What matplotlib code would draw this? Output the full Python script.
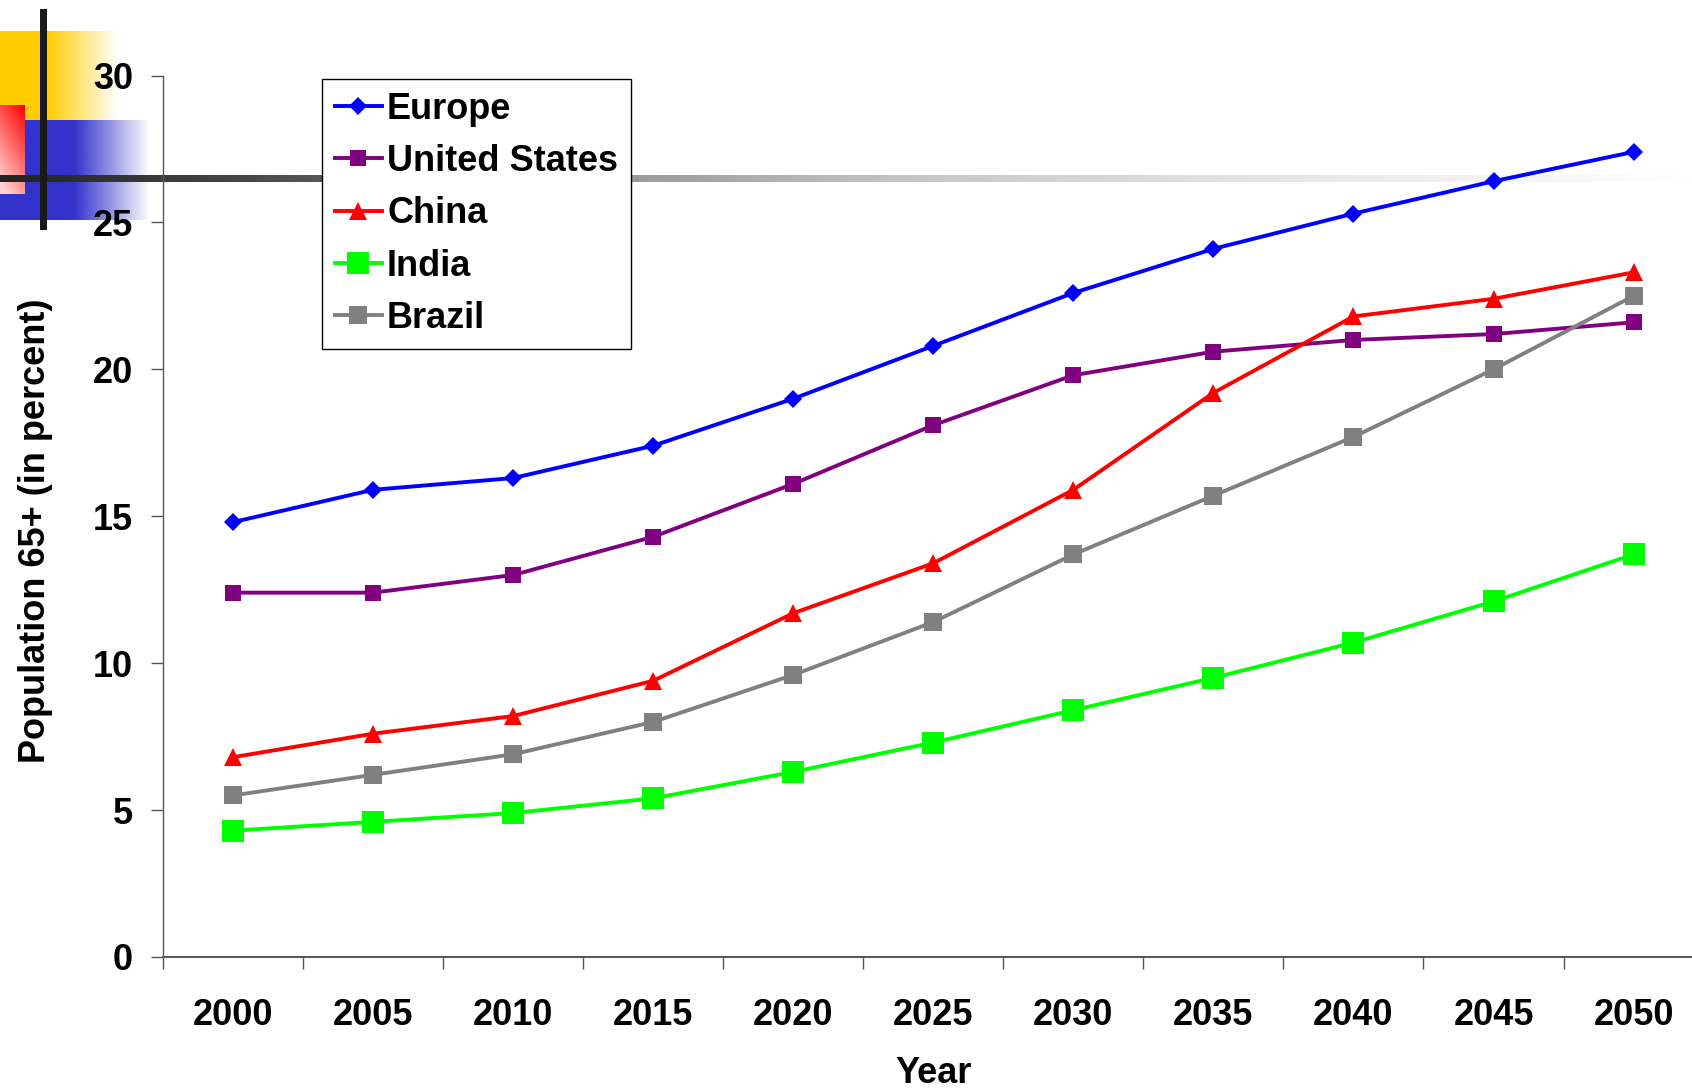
import numpy as np
import matplotlib
matplotlib.use("Agg")
import matplotlib.pyplot as plt
from matplotlib.ticker import FixedLocator

plt.rcParams['font.family'] = ['Liberation Sans', 'DejaVu Sans']
plt.rcParams['font.weight'] = 'bold'

years = ['2000', '2005', '2010', '2015', '2020', '2025',
         '2030', '2035', '2040', '2045', '2050']
europe = [14.8, 15.9, 16.3, 17.4, 19.0, 20.8, 22.6, 24.1, 25.3, 26.4, 27.4]
united_states = [12.4, 12.4, 13.0, 14.3, 16.1, 18.1, 19.8, 20.6, 21.0, 21.2, 21.6]
china = [6.8, 7.6, 8.2, 9.4, 11.7, 13.4, 15.9, 19.2, 21.8, 22.4, 23.3]
india = [4.3, 4.6, 4.9, 5.4, 6.3, 7.3, 8.4, 9.5, 10.7, 12.1, 13.7]
brazil = [5.5, 6.2, 6.9, 8.0, 9.6, 11.4, 13.7, 15.7, 17.7, 20.0, 22.5]

W, H = 1692, 1091
FS = 26
fig = plt.figure(figsize=(W / 100, H / 100), dpi=100)

# slide template ornaments, drawn in pixel units behind the chart
bg = fig.add_axes([0, 0, 1, 1], zorder=-1)
bg.set_xlim(0, W)
bg.set_ylim(H, 0)
bg.axis('off')


def hfade(rgb, solid, end, top, bottom):
    xs = np.linspace(0, end, 300)
    alpha = np.clip((end - xs) / (end - solid), 0, 1)
    img = np.zeros((1, len(xs), 4))
    img[0, :, :3] = rgb
    img[0, :, 3] = alpha
    bg.imshow(img, extent=(0, end, bottom, top), aspect='auto',
              interpolation='bilinear')


hfade((1.0, 0.8, 0.0), 47, 118, 31, 120)
hfade((0.2, 0.2, 0.8), 75, 150, 120, 220)

# red block, red at the top right fading to pink at the bottom left
gx, gy = np.meshgrid(np.linspace(0, 1, 40), np.linspace(0, 1, 80))
t = np.clip(0.75 * gy + 0.35 * (1 - gx), 0, 1)
red = np.zeros((80, 40, 3))
red[..., 0] = 1.0
red[..., 1] = 0.82 * t
red[..., 2] = 0.82 * t
bg.imshow(red, extent=(0, 25, 194, 105), aspect='auto', interpolation='bilinear')

bg.add_patch(plt.Rectangle((40, 9), 7, 221, color='#1a1a1a', lw=0))

# grey bar fading out to the right
px = np.arange(0, W)
level = np.interp(px, [0, 240, 600, 900, 1200, 1500, 1692],
                  [34, 70, 149, 197, 224, 244, 255]) / 255
bar = np.repeat(level[None, :, None], 3, axis=2)
bg.imshow(bar, extent=(0, W, 182, 175), aspect='auto', interpolation='bilinear')

ax = fig.add_axes([163 / W, 1 - 957 / H, 1540.6 / W, 881.5 / H])
ax.set_facecolor('none')

x = np.arange(len(years))
ax.plot(x, europe, color='#0000FF', lw=2.8, marker='D', ms=9.5, mew=0,
        label='Europe')
ax.plot(x, united_states, color='#800080', lw=2.8, marker='s', ms=12, mew=0,
        label='United States')
ax.plot(x, china, color='#FF0000', lw=2.8, marker='^', ms=13.5, mew=0,
        label='China')
ax.plot(x, india, color='#00FF00', lw=2.8, marker='s', ms=15.5, mew=0,
        label='India')
ax.plot(x, brazil, color='#808080', lw=2.8, marker='s', ms=13.5, mew=0,
        label='Brazil')

ax.set_xlim(-0.5, len(years) - 0.5)
ax.set_ylim(0, 30)
ax.set_yticks([0, 5, 10, 15, 20, 25, 30])
ax.set_xticks(x)
ax.set_xticklabels(years)
ax.xaxis.set_minor_locator(FixedLocator(np.arange(-0.5, len(years), 1)))

ax.tick_params(axis='x', which='major', length=0, pad=29.5, labelsize=FS)
ax.tick_params(axis='x', which='minor', length=8.6, width=1, color='#555555',
               direction='out')
ax.tick_params(axis='y', length=8.6, width=1, color='#555555', pad=13,
               labelsize=FS, direction='out')

for side in ('top', 'right'):
    ax.spines[side].set_visible(False)
ax.spines['left'].set_color('#555555')
ax.spines['left'].set_linewidth(1)
ax.spines['bottom'].set_color('#555555')
ax.spines['bottom'].set_linewidth(1.4)

ax.set_ylabel('Population 65+ (in percent)', fontsize=FS, fontweight='bold',
              va='center')
ax.yaxis.set_label_coords(-0.083, 0.484)
ax.set_xlabel('Year', fontsize=FS, fontweight='bold', va='baseline')
ax.xaxis.set_label_coords(0.5, -0.143)

leg = ax.legend(loc='upper left', bbox_to_anchor=(322 / W, 1 - 79 / H),
                bbox_transform=fig.transFigure, fontsize=FS, frameon=True,
                fancybox=False, framealpha=1, edgecolor='black',
                borderpad=0.35, labelspacing=0.48, handlelength=1.3,
                handletextpad=0.15, borderaxespad=0)
leg.get_frame().set_linewidth(1)

fig.savefig('out.png', dpi=100)
